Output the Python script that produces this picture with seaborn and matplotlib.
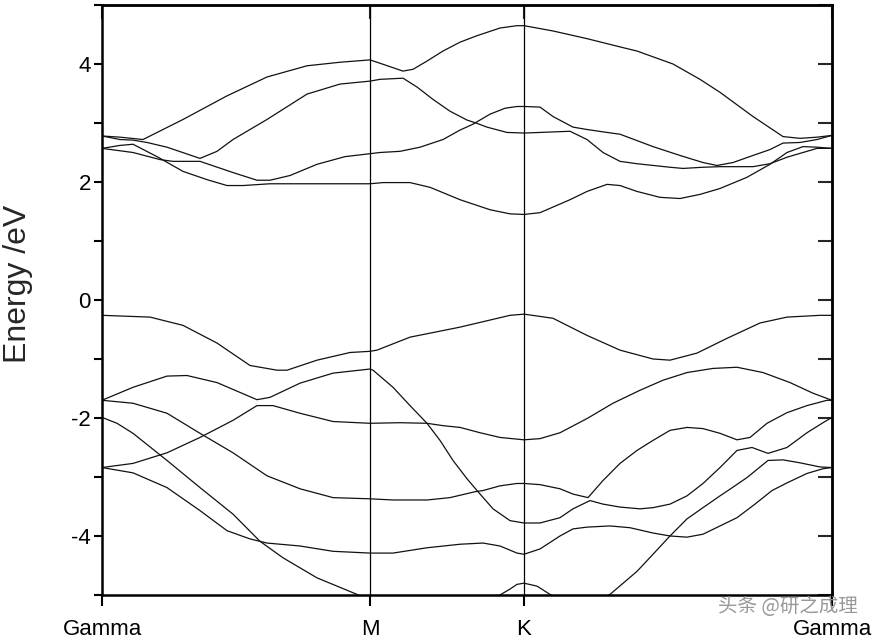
import numpy as np
import pandas as pd
import matplotlib
matplotlib.use("Agg")
import matplotlib.pyplot as plt
from matplotlib.ticker import MultipleLocator
import seaborn as sns

# High-symmetry points (path length, arbitrary units)
kpoint_pos = [0.0, 2.68, 4.22, 7.30]
kpoint_labels = ["Gamma", "M", "K", "Gamma"]

# ---- Conduction bands ----
cA_k = [0, 0.18, 0.41, 0.81, 1.25, 1.65, 2.05, 2.38, 2.68, 2.75, 3.01, 3.11, 3.25, 3.41, 3.58, 3.75, 3.98, 4.15, 4.22,
        4.51, 4.85, 5.18, 5.35, 5.71, 5.98, 6.18, 6.51, 6.81, 6.98, 7.15, 7.30]
cA_E = [2.78, 2.76, 2.72, 3.06, 3.46, 3.78, 3.97, 4.03, 4.07, 4.03, 3.88, 3.91, 4.05, 4.22, 4.37, 4.48, 4.61, 4.65, 4.65,
        4.56, 4.43, 4.29, 4.22, 4.00, 3.74, 3.52, 3.11, 2.77, 2.74, 2.76, 2.79]

cB_k = [0, 0.18, 0.31, 0.45, 0.65, 0.98, 1.15, 1.31, 1.65, 2.05, 2.38, 2.68, 2.78, 3.01, 3.15, 3.31, 3.48, 3.65, 3.74,
        3.85, 4.05, 4.22, 4.38, 4.68, 4.85, 5.01, 5.18, 5.35, 5.68, 5.81, 6.01, 6.18, 6.51, 6.68, 6.85, 7.01, 7.15, 7.30]
cB_E = [2.78, 2.72, 2.71, 2.67, 2.59, 2.40, 2.52, 2.72, 3.06, 3.49, 3.66, 3.71, 3.74, 3.76, 3.61, 3.40, 3.20, 3.05, 3.00,
        2.93, 2.84, 2.83, 2.84, 2.86, 2.72, 2.50, 2.35, 2.31, 2.25, 2.23, 2.25, 2.26, 2.26, 2.31, 2.42, 2.50, 2.57, 2.57]

cC_k = [0, 0.18, 0.31, 0.55, 0.81, 1.05, 1.25, 1.41, 1.68, 1.98, 2.68, 2.81, 3.08, 3.28, 3.58, 3.88, 4.08, 4.22,
        4.38, 4.68, 4.85, 5.05, 5.18, 5.35, 5.58, 5.78, 5.98, 6.18, 6.45, 6.68, 6.85, 7.01, 7.15, 7.30]
cC_E = [2.57, 2.62, 2.64, 2.43, 2.18, 2.04, 1.94, 1.94, 1.97, 1.97, 1.97, 1.99, 1.99, 1.91, 1.70, 1.53, 1.46, 1.45,
        1.48, 1.70, 1.84, 1.96, 1.94, 1.84, 1.74, 1.72, 1.79, 1.89, 2.08, 2.30, 2.50, 2.60, 2.59, 2.57]

cD_k = [0, 0.31, 0.58, 0.71, 0.98, 1.31, 1.55, 1.68, 1.88, 2.15, 2.43, 2.68, 2.78, 2.98, 3.18, 3.41, 3.58, 3.71, 3.88,
        4.03, 4.15, 4.22, 4.38, 4.51, 4.71, 4.85, 5.05, 5.18, 5.51, 5.78, 6.01, 6.15, 6.31, 6.51, 6.68, 6.81, 6.98, 7.15, 7.30]
cD_E = [2.57, 2.50, 2.38, 2.35, 2.35, 2.16, 2.03, 2.03, 2.11, 2.30, 2.43, 2.48, 2.50, 2.52, 2.59, 2.72, 2.88, 2.98, 3.15,
        3.25, 3.28, 3.28, 3.27, 3.11, 2.93, 2.89, 2.84, 2.81, 2.60, 2.45, 2.33, 2.28, 2.33, 2.45, 2.55, 2.66, 2.67, 2.72, 2.79]

# ---- Valence bands ----
v1_k = [0, 0.48, 0.81, 1.15, 1.48, 1.75, 1.85, 2.15, 2.48, 2.68, 2.75, 3.08, 3.58, 4.08, 4.22, 4.51, 4.85, 5.18, 5.51,
        5.68, 5.95, 6.25, 6.58, 6.85, 7.18, 7.30]
v1_E = [-0.26, -0.29, -0.43, -0.73, -1.11, -1.19, -1.19, -1.02, -0.89, -0.87, -0.85, -0.63, -0.46, -0.26, -0.24, -0.31,
        -0.60, -0.85, -1.00, -1.02, -0.90, -0.65, -0.39, -0.29, -0.26, -0.26]

v2_k = [0, 0.31, 0.65, 0.85, 1.15, 1.55, 1.68, 1.98, 2.31, 2.68, 2.71, 2.91, 3.08, 3.25, 3.38, 3.51, 3.65, 3.75, 3.91,
        4.08, 4.22, 4.38, 4.58, 4.71, 4.88, 5.01, 5.18, 5.38, 5.51, 5.68, 5.85, 6.01, 6.18, 6.35, 6.50, 6.66, 6.85, 7.05,
        7.21, 7.30]
v2_E = [-1.70, -1.48, -1.29, -1.28, -1.40, -1.69, -1.65, -1.41, -1.24, -1.17, -1.19, -1.48, -1.79, -2.09, -2.38, -2.72,
        -3.03, -3.23, -3.54, -3.74, -3.78, -3.78, -3.69, -3.54, -3.40, -3.46, -3.51, -3.54, -3.52, -3.46, -3.32, -3.11,
        -2.84, -2.55, -2.50, -2.60, -2.50, -2.25, -2.08, -1.99]

v3_k = [0, 0.31, 0.65, 0.98, 1.31, 1.55, 1.71, 1.98, 2.31, 2.68, 2.98, 3.25, 3.41, 3.58, 3.78, 3.98, 4.22, 4.38, 4.58,
        4.85, 5.11, 5.38, 5.61, 5.85, 6.11, 6.35, 6.61, 6.88, 7.11, 7.30]
v3_E = [-2.84, -2.77, -2.59, -2.33, -2.04, -1.79, -1.79, -1.92, -2.06, -2.09, -2.08, -2.09, -2.13, -2.16, -2.25, -2.33,
        -2.37, -2.35, -2.25, -2.01, -1.75, -1.53, -1.36, -1.23, -1.16, -1.14, -1.23, -1.40, -1.58, -1.70]

v4_k = [0, 0.31, 0.65, 0.98, 1.31, 1.65, 1.98, 2.31, 2.68, 2.91, 3.25, 3.48, 3.73, 3.81, 3.98, 4.15, 4.22, 4.38, 4.58,
        4.71, 4.86, 5.01, 5.18, 5.35, 5.51, 5.68, 5.85, 6.01, 6.18, 6.35, 6.48, 6.65, 6.85, 7.05, 7.25, 7.30]
v4_E = [-1.70, -1.75, -1.92, -2.26, -2.59, -2.98, -3.20, -3.35, -3.37, -3.39, -3.39, -3.35, -3.25, -3.23, -3.15, -3.11,
        -3.11, -3.13, -3.20, -3.29, -3.35, -3.06, -2.77, -2.55, -2.38, -2.21, -2.16, -2.18, -2.26, -2.37, -2.33, -2.09,
        -1.91, -1.79, -1.70, -1.70]

v5_k = [0, 0.15, 0.31, 0.65, 0.98, 1.31, 1.58, 1.81, 2.15, 2.55, 2.78, 3.28, 3.78, 3.96, 4.08, 4.15, 4.22, 4.35, 4.48,
        4.78, 5.08, 5.35, 5.51, 5.68, 5.85, 6.01, 6.18, 6.26, 6.45, 6.66, 6.81, 6.98, 7.18, 7.30]
v5_E = [-1.99, -2.09, -2.26, -2.72, -3.18, -3.63, -4.09, -4.37, -4.71, -4.99, -5.20, -5.40, -5.20, -5.02, -4.90, -4.82,
        -4.80, -4.85, -4.99, -5.25, -4.99, -4.60, -4.31, -4.00, -3.71, -3.52, -3.32, -3.23, -3.01, -2.72, -2.71, -2.76,
        -2.83, -2.84]

v6_k = [0, 0.31, 0.65, 0.98, 1.25, 1.48, 1.65, 1.98, 2.31, 2.68, 2.91, 3.25, 3.58, 3.81, 3.98, 4.15, 4.22, 4.38, 4.58,
        4.71, 4.85, 5.08, 5.28, 5.51, 5.68, 5.85, 6.01, 6.18, 6.35, 6.53, 6.70, 6.85, 7.05, 7.21, 7.30]
v6_E = [-2.84, -2.93, -3.18, -3.57, -3.91, -4.05, -4.12, -4.17, -4.26, -4.29, -4.29, -4.20, -4.14, -4.12, -4.17, -4.29,
        -4.31, -4.22, -4.00, -3.88, -3.85, -3.83, -3.86, -3.95, -4.00, -4.02, -3.97, -3.83, -3.69, -3.46, -3.23, -3.10,
        -2.94, -2.86, -2.84]

bands = {
    "cA": (cA_k, cA_E), "cB": (cB_k, cB_E), "cC": (cC_k, cC_E), "cD": (cD_k, cD_E),
    "v1": (v1_k, v1_E), "v2": (v2_k, v2_E), "v3": (v3_k, v3_E), "v4": (v4_k, v4_E),
    "v5": (v5_k, v5_E), "v6": (v6_k, v6_E),
}
frames = []
for name, (kk, ee) in bands.items():
    frames.append(pd.DataFrame({"k": kk, "E": ee, "band": name}))
df = pd.concat(frames, ignore_index=True)

sns.set_theme(style="white")
plt.rcParams["font.family"] = ["Liberation Sans", "DejaVu Sans"]

fig = plt.figure(figsize=(8.87, 6.43), dpi=100)
ax = fig.add_axes([0.115, 0.0747, 0.823, 0.9175])

sns.lineplot(data=df, x="k", y="E", units="band", estimator=None, sort=False,
             color="#111111", linewidth=0.9, ax=ax, legend=False)

for p in kpoint_pos[1:-1]:
    ax.axvline(p, color="black", linewidth=0.9, zorder=1)

ax.set_xlim(kpoint_pos[0], kpoint_pos[-1])
ax.set_ylim(-5, 5)
ax.set_xticks(kpoint_pos)
ax.set_xticklabels(kpoint_labels, fontsize=16)
ax.set_yticks([-4, -2, 0, 2, 4])
ax.set_yticklabels(["-4", "-2", "0", "2", "4"], fontsize=16)
ax.yaxis.set_minor_locator(MultipleLocator(1))
ax.set_xlabel("")
ax.set_ylabel("Energy /eV", fontsize=23)
ax.yaxis.set_label_coords(-0.095, 0.528)

for s in ax.spines.values():
    s.set_linewidth(1.8)
    s.set_color("black")

ax.tick_params(axis="y", which="both", left=True, right=False, direction="out",
               length=6, width=1.5, color="black", pad=2, labelcolor="black")
ax.tick_params(axis="x", which="both", bottom=True, top=False, direction="out",
               length=8, width=1.5, color="black", pad=9, labelcolor="black")

secy = ax.secondary_yaxis("right")
secy.set_yticks([-4, -2, 0, 2, 4])
secy.yaxis.set_minor_locator(MultipleLocator(1))
secy.tick_params(axis="y", which="both", direction="in", length=10, width=1.5, labelright=False)
secy.spines["right"].set_linewidth(1.8)

secx = ax.secondary_xaxis("top")
secx.set_xticks(kpoint_pos)
secx.tick_params(axis="x", direction="in", length=10, width=1.5, labeltop=False)
secx.spines["top"].set_linewidth(1.8)

fig.text(0.888, 0.057, "头条 @研之成理", fontsize=14, color="#8c8c8c", alpha=0.9,
         ha="center", va="center", family=["Noto Sans CJK SC", "DejaVu Sans"])

fig.savefig("out.png", dpi=100)
